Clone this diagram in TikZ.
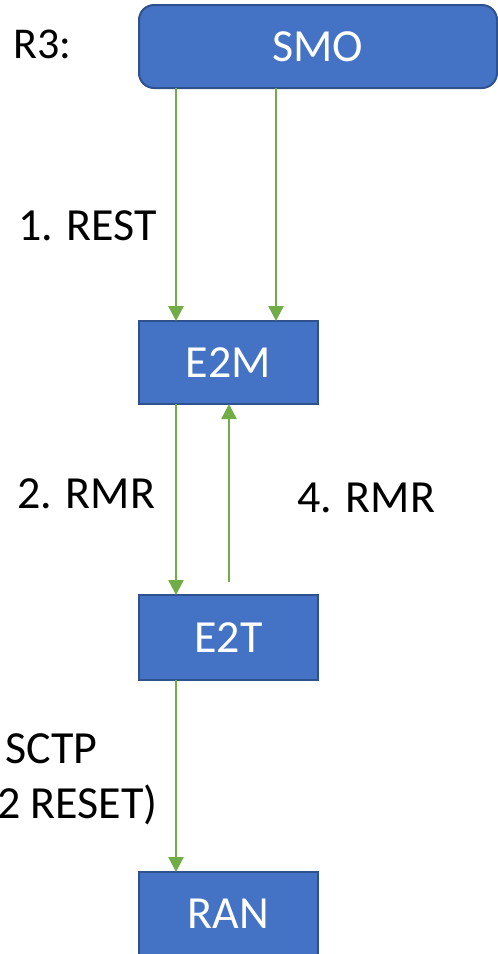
\documentclass[tikz,border=0pt]{standalone}
\usepackage{fontspec}
\setmainfont{Carlito}
\usetikzlibrary{arrows.meta,calc}
\definecolor{boxfill}{HTML}{4472C4}
\definecolor{boxline}{HTML}{2F528F}
\definecolor{arrgreen}{HTML}{70AD47}
\begin{document}
\begin{tikzpicture}[x=1pt,y=-1pt,
  box/.style={draw=boxline,line width=2pt,fill=boxfill,text=white,
    font=\fontsize{46}{55}\selectfont,inner sep=0pt,outer sep=0pt,anchor=north west},
  lbl/.style={font=\fontsize{46}{55}\selectfont,inner sep=0pt,anchor=base west},
  arr/.style={draw=arrgreen,line width=2.5pt,-{Triangle[width=15pt,length=15pt]}}]
\useasboundingbox (0,0) rectangle (498,954);
\clip (0,0) rectangle (498,954);
\node[box,rounded corners=15pt,minimum width=358pt,minimum height=83pt] (smo) at (139,5) {SMO};
\node[box,minimum width=179pt,minimum height=83pt] (e2m) at (139,321) {E2M};
\node[box,minimum width=179pt,minimum height=85pt] (e2t) at (139,595) {E2T};
\node[box,minimum width=179pt,minimum height=83pt,text depth=0pt] (ran) at (139,872) {\raisebox{0pt}{RAN}};
\node[lbl,font=\fontsize{44}{53}\selectfont] (r3) at (13,58) {R3:};
\node[lbl] (l1) at (18,240) {1. REST};
\node[lbl] (l2) at (17,508) {2. RMR};
\node[lbl] (l4) at (297,512) {4. RMR};
\node[lbl] (l5a) at (5,763) {SCTP};
\node[lbl,anchor=base east] (l5b) at (158,818) {(2 RESET)};
\draw[arr] ($(smo.south west)+(37,0)$) -- ($(e2m.north west)+(37,0)$);
\draw[arr] ($(smo.south west)+(137,0)$) -- ($(e2m.north west)+(137,0)$);
\draw[arr] ($(e2m.south west)+(37,0)$) -- ($(e2t.north west)+(37,0)$);
\draw[arr] ($(e2t.north west)+(90,-13)$) -- ($(e2m.south west)+(90,0)$);
\draw[arr] ($(e2t.south west)+(37,0)$) -- ($(ran.north west)+(37,0)$);
\end{tikzpicture}
\end{document}
